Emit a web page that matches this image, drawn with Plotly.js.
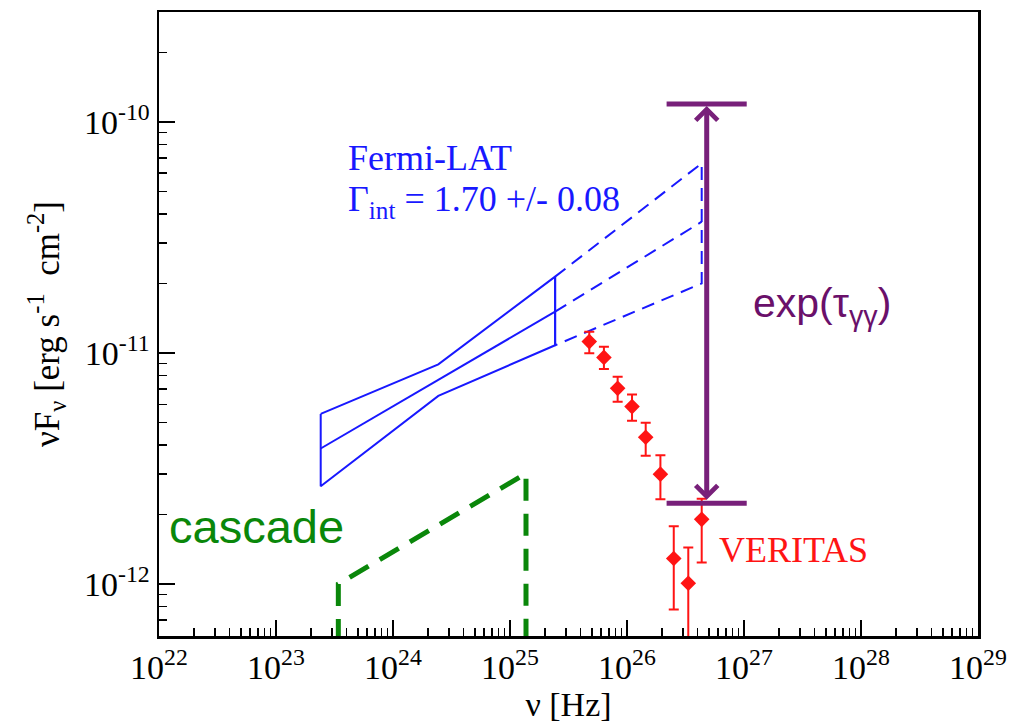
<!DOCTYPE html>
<html>
<head>
<meta charset="utf-8">
<script src="https://cdn.plot.ly/plotly-3.0.1.min.js"></script>
<style>html,body{margin:0;padding:0;background:#fff;}#chart{width:1024px;height:725px;}</style>
</head>
<body>
<div id="chart"></div>
<script>
// ---- Fermi-LAT bow-tie (solid part) ----
const fermiX      = [2.41e23, 2.44e24, 2.43e25];
const fermiUpper  = [5.45e-12, 8.93e-12, 2.14e-11];
const fermiLower  = [2.65e-12, 6.52e-12, 1.08e-11];
const fermiMidX   = [2.41e23, 2.43e25];
const fermiMid    = [3.86e-12, 1.51e-11];
// ---- Fermi-LAT extrapolation (dashed) ----
const extX        = [2.43e25, 4.35e26];
const extUpper    = [2.14e-11, 6.62e-11];
const extMid      = [1.51e-11, 3.70e-11];
const extLower    = [1.08e-11, 2.00e-11];
// ---- VERITAS points ----
const veritasX    = [4.76e25, 6.35e25, 8.32e25, 1.104e26, 1.445e26, 1.93e26, 2.51e26, 3.34e26, 4.35e26];
const veritasY    = [1.12e-11, 9.57e-12, 7.03e-12, 5.86e-12, 4.32e-12, 2.99e-12, 1.29e-12, 1.007e-12, 1.905e-12];
const veritasHigh = [1.236e-11, 1.064e-11, 7.89e-12, 6.62e-12, 4.99e-12, 3.61e-12, 1.78e-12, 1.44e-12, 2.34e-12];
const veritasLow  = [9.98e-12, 8.53e-12, 6.15e-12, 5.09e-12, 3.59e-12, 2.33e-12, 7.76e-13, 3.0e-13, 1.24e-12];
// ---- cascade (dashed green) ----
const cascadeX    = [3.41e23, 3.41e23, 1.37e25, 1.37e25];
const cascadeY    = [4.0e-13, 1.0e-12, 3.01e-12, 4.0e-13];
// ---- absorption arrow exp(tau) ----
const arrowX      = 4.80e26;
const arrowTopY   = 1.197e-10;
const arrowBotY   = 2.234e-12;
const barX        = [2.18e26, 1.055e27];
// ---- ticks ----
const xTickVals   = [1e22, 1e23, 1e24, 1e25, 1e26, 1e27, 1e28, 1e29];
const xTickText   = ['10<sup>22</sup>','10<sup>23</sup>','10<sup>24</sup>','10<sup>25</sup>','10<sup>26</sup>','10<sup>27</sup>','10<sup>28</sup>','10<sup>29</sup>'];
const yTickVals   = [1e-12, 1e-11, 1e-10];
const yTickText   = ['10<sup>-12</sup>','10<sup>-11</sup>','10<sup>-10</sup>'];

const BLUE = '#1818ff', RED = '#ff1414', GREEN = '#0a870a', PURPLE = '#78207a', PURPLE_T = '#6a106a';
const SERIF = 'Liberation Serif';
const SANS = 'Liberation Sans';

const bowX = fermiX.concat(fermiX.slice().reverse(), [fermiX[0]]);
const bowY = fermiUpper.concat(fermiLower.slice().reverse(), [fermiUpper[0]]);

const traces = [
  {x: bowX, y: bowY, mode: 'lines', line: {color: BLUE, width: 2}},
  {x: fermiMidX, y: fermiMid, mode: 'lines', line: {color: BLUE, width: 2}},
  {x: [fermiX[2], fermiX[2]], y: [fermiLower[2], fermiUpper[2]], mode: 'lines', line: {color: BLUE, width: 2}},
  {x: [extX[0], extX[1], extX[1], extX[0]], y: [extUpper[0], extUpper[1], extLower[1], extLower[0]],
   mode: 'lines', line: {color: BLUE, width: 2, dash: '13px,8px'}},
  {x: extX, y: extMid, mode: 'lines', line: {color: BLUE, width: 2, dash: '13px,8px'}},
  {x: cascadeX, y: cascadeY, mode: 'lines', line: {color: GREEN, width: 5, dash: '22px,13px'}},
  {x: veritasX, y: veritasY, mode: 'markers',
   marker: {symbol: 'diamond', size: 12, color: RED},
   error_y: {type: 'data', symmetric: false,
     array: veritasHigh.map((h, i) => h - veritasY[i]),
     arrayminus: veritasLow.map((l, i) => veritasY[i] - l),
     color: RED, thickness: 2, width: 5}},
  {x: barX, y: [arrowTopY, arrowTopY], mode: 'lines', line: {color: PURPLE, width: 5}},
  {x: barX, y: [arrowBotY, arrowBotY], mode: 'lines', line: {color: PURPLE, width: 5}}
];

const L = 159, R = 978, T = 12, B = 636;
const px = v => (v - L) / (R - L);
const py = v => (B - v) / (B - T);

const minorTicks = {ticks: 'inside', ticklen: 8, tickwidth: 1.5, tickcolor: '#000', dtick: 'D1', showgrid: false};
const tickFont = {family: SERIF, size: 34, color: '#000'};

const layout = {
  width: 1024, height: 725,
  margin: {l: L, r: 1024 - R, t: T, b: 725 - B},
  paper_bgcolor: '#fff', plot_bgcolor: '#fff',
  showlegend: false,
  font: {family: SERIF, color: '#000'},
  xaxis: {
    type: 'log', range: [22, 29],
    tickvals: xTickVals, ticktext: xTickText,
    ticks: 'inside', ticklen: 16, tickwidth: 2, tickcolor: '#000',
    minor: minorTicks,
    showline: true, linewidth: 2.5, linecolor: '#000', mirror: true,
    showgrid: false, zeroline: false,
    tickfont: tickFont,
    title: {text: 'ν [Hz]', font: {family: SERIF, size: 34, color: '#000'}, standoff: 0}
  },
  xaxis2: {
    type: 'log', range: [22, 29], overlaying: 'x', side: 'top', anchor: 'y',
    tickvals: xTickVals, showticklabels: false,
    ticks: 'inside', ticklen: 16, tickwidth: 2, tickcolor: '#000',
    minor: minorTicks, showline: false, showgrid: false, zeroline: false
  },
  yaxis: {
    type: 'log', range: [-12.225, -9.524],
    tickvals: yTickVals, ticktext: yTickText,
    ticks: 'inside', ticklen: 16, tickwidth: 2, tickcolor: '#000',
    minor: minorTicks,
    showline: true, linewidth: 2.5, linecolor: '#000', mirror: true,
    showgrid: false, zeroline: false,
    tickfont: tickFont,
    title: {text: 'νF<sub>ν</sub> [erg s<sup>-1</sup>  cm<sup>-2</sup>]', font: {family: SERIF, size: 35, color: '#000'}, standoff: 14}
  },
  yaxis2: {
    type: 'log', range: [-12.225, -9.524], overlaying: 'y', side: 'right', anchor: 'x',
    tickvals: yTickVals, showticklabels: false,
    ticks: 'inside', ticklen: 16, tickwidth: 2, tickcolor: '#000',
    minor: minorTicks, showline: false, showgrid: false, zeroline: false
  },
  annotations: [
    {xref: 'x', yref: 'y', x: Math.log10(arrowX), y: Math.log10(arrowTopY),
     axref: 'x', ayref: 'y', ax: Math.log10(arrowX), ay: Math.log10(arrowBotY),
     text: '', showarrow: true, arrowhead: 4, startarrowhead: 4, arrowside: 'end+start',
     arrowsize: 0.85, startarrowsize: 0.85, arrowwidth: 5, arrowcolor: PURPLE, standoff: 2, startstandoff: 2},
    {xref: 'paper', yref: 'paper', x: px(822), y: py(306), xanchor: 'center', yanchor: 'middle',
     text: 'exp(τ<sub>γγ</sub>)', showarrow: false, font: {family: SANS, size: 41, color: PURPLE_T}},
    {xref: 'paper', yref: 'paper', x: px(256), y: py(526), xanchor: 'center', yanchor: 'middle',
     text: 'cascade', showarrow: false, font: {family: SANS, size: 47, color: GREEN}},
    {xref: 'paper', yref: 'paper', x: px(793), y: py(550), xanchor: 'center', yanchor: 'middle',
     text: 'VERITAS', showarrow: false, font: {family: SERIF, size: 36, color: RED}},
    {xref: 'paper', yref: 'paper', x: px(346), y: py(158), xanchor: 'left', yanchor: 'middle',
     text: 'Fermi-LAT', showarrow: false, font: {family: SERIF, size: 36, color: BLUE}},
    {xref: 'paper', yref: 'paper', x: px(346), y: py(201), xanchor: 'left', yanchor: 'middle',
     text: 'Γ<sub>int</sub> = 1.70 +/- 0.08', showarrow: false, font: {family: SERIF, size: 36, color: BLUE}}
  ]
};

Plotly.newPlot('chart', traces, layout, {staticPlot: true, displayModeBar: false});
</script>
</body>
</html>
